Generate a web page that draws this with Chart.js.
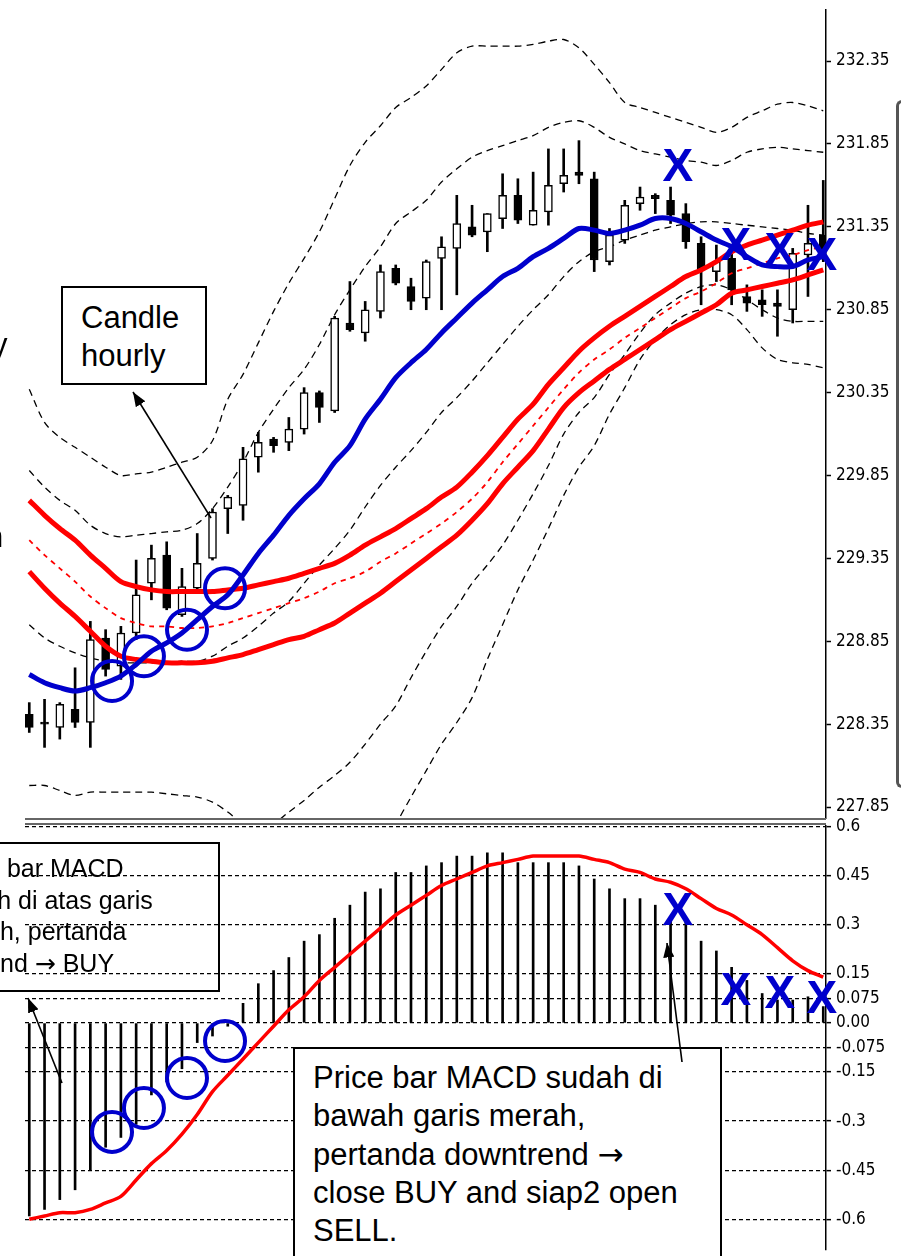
<!DOCTYPE html>
<html lang="id">
<head>
<meta charset="UTF-8">
<title>Candle hourly dan MACD</title>
<script src="https://cdn.jsdelivr.net/npm/chart.js"></script>
<style>
  html, body { margin: 0; padding: 0; background: #fff; }
  body { width: 901px; height: 1256px; position: relative; overflow: hidden;
         font-family: 'Liberation Sans', Arial, sans-serif; color: #000; }
  canvas { position: absolute; left: 0; }
  #priceChart { top: 0; z-index: 1; }
  #macdChart { top: 806px; z-index: 1; }
  .rule { position: absolute; left: 25px; width: 801px; height: 2px; background: #666; z-index: 2; }
  .note { position: absolute; box-sizing: border-box; border: 2px solid #000; white-space: nowrap; z-index: 3; }
  .big { font-size: 31px; line-height: 38px; }
  .arr { font-family: 'DejaVu Sans', sans-serif; }
  .frag { position: absolute; font-size: 31px; line-height: 38px; z-index: 3; }
  #scroll { position: absolute; left: 896px; top: 100px; width: 8px; height: 688px; box-sizing: border-box;
            border-left: 3px solid #555; border-top: 3px solid #555; border-bottom: 3px solid #555;
            border-radius: 6px 0 0 6px; z-index: 2; }
  svg { position: absolute; left: 0; top: 0; z-index: 4; }
</style>
</head>
<body>

<canvas id="priceChart" width="901" height="822"></canvas>
<canvas id="macdChart" width="901" height="450"></canvas>

<div class="rule" style="top:818px"></div>
<div class="rule" style="top:823px"></div>
<div id="scroll"></div>

<div class="frag" style="left:-8px; top:326px">y</div>
<div class="frag" style="left:-14px; top:518px">n</div>

<div class="note big" style="left:61px; top:286px; width:146px; height:99px; padding:11px 0 0 18px; background:#fff">Candle<br>hourly</div>

<div class="note" style="left:-75px; top:842px; width:295px; height:150px; padding:9px 0 0 16px; font-size:25px; line-height:31.7px">Price bar MACD<br>sudah di atas garis<br>merah, pertanda<br>uptrend <span class="arr">→</span> BUY</div>

<div class="note big" style="left:293px; top:1047px; width:429px; height:230px; padding:10px 0 0 18px; background:#fff">Price bar MACD sudah di<br>bawah garis merah,<br>pertanda downtrend <span class="arr">→</span><br>close BUY and siap2 open<br>SELL.</div>

<svg width="901" height="1256">
  <defs>
    <marker id="head" markerWidth="9" markerHeight="7" refX="9" refY="3.5" orient="auto">
      <path d="M0,0 L9,3.5 L0,7 z" fill="#000"/>
    </marker>
  </defs>
  <line x1="211" y1="518" x2="133" y2="392" stroke="#000" stroke-width="1.6" marker-end="url(#head)"/>
  <line x1="62" y1="1083" x2="28" y2="998" stroke="#000" stroke-width="1.6" marker-end="url(#head)"/>
  <line x1="682" y1="1062" x2="667" y2="943" stroke="#000" stroke-width="1.6" marker-end="url(#head)"/>
</svg>

<script>
// hourly candles (one entry per bar, left to right)
const candleOpen  = [228.41,228.36,228.33,228.44,228.36,228.87,228.70,228.90,229.20,229.37,229.01,229.17,229.35,229.65,229.67,229.96,230.07,230.05,230.13,230.35,230.24,230.77,230.71,230.84,231.10,230.99,230.92,231.16,231.22,231.35,231.32,231.40,231.54,231.36,231.44,231.61,231.68,231.64,231.14,231.27,231.49,231.54,231.51,231.43,231.25,231.08,231.16,230.93,230.91,230.89,230.85,231.18,231.30];
const candleHigh  = [228.48,228.50,228.48,228.69,228.97,228.92,228.94,229.34,229.43,229.45,229.29,229.50,229.65,229.73,230.02,230.11,230.08,230.20,230.38,230.36,230.81,231.02,230.90,231.12,231.12,231.04,231.15,231.29,231.54,231.48,231.43,231.67,231.64,231.68,231.82,231.82,231.87,231.68,231.34,231.51,231.59,231.55,231.59,231.49,231.29,231.24,231.19,231.00,230.97,230.97,231.22,231.48,231.63];
const candleLow   = [228.30,228.21,228.26,228.33,228.21,228.64,228.62,228.86,229.10,229.04,229.00,229.16,229.34,229.50,229.58,229.87,229.99,230.00,230.10,230.17,230.23,230.72,230.66,230.80,231.00,230.85,230.85,230.85,230.94,231.29,231.20,231.34,231.37,231.36,231.36,231.56,231.61,231.08,231.12,231.25,231.45,231.43,231.37,231.22,230.88,231.02,230.88,230.84,230.81,230.69,230.77,230.93,231.14];
const candleClose = [228.33,228.35,228.47,228.36,228.86,228.68,228.90,229.13,229.35,229.05,229.18,229.32,229.63,229.72,229.95,230.05,230.03,230.13,230.35,230.26,230.80,230.73,230.85,231.08,231.01,230.90,231.14,231.23,231.37,231.30,231.43,231.54,231.39,231.45,231.60,231.66,231.66,231.15,231.30,231.48,231.53,231.52,231.42,231.26,231.09,231.14,230.97,230.89,230.88,230.87,231.19,231.25,231.18];

// indicator lines on the price panel
const blueLine  = [228.65,228.60,228.57,228.55,228.57,228.60,228.64,228.71,228.79,228.84,228.90,228.98,229.06,229.13,229.25,229.38,229.49,229.61,229.71,229.80,229.93,230.03,230.19,230.31,230.44,230.53,230.61,230.71,230.80,230.89,230.97,231.05,231.10,231.17,231.22,231.28,231.34,231.33,231.31,231.33,231.36,231.40,231.40,231.37,231.32,231.27,231.23,231.17,231.12,231.11,231.11,231.15,231.17];
const redUpper  = [229.70,229.61,229.53,229.46,229.37,229.29,229.21,229.18,229.16,229.15,229.15,229.15,229.15,229.16,229.17,229.19,229.21,229.23,229.26,229.29,229.32,229.37,229.43,229.48,229.53,229.59,229.65,229.72,229.78,229.87,229.97,230.08,230.19,230.28,230.40,230.50,230.60,230.68,230.75,230.81,230.87,230.93,230.99,231.05,231.09,231.14,231.20,231.24,231.27,231.30,231.33,231.36,231.38];
const redMiddle = [229.46,229.37,229.29,229.21,229.12,229.05,228.99,228.96,228.94,228.94,228.93,228.93,228.94,228.96,228.99,229.02,229.05,229.08,229.11,229.15,229.20,229.23,229.27,229.33,229.38,229.44,229.50,229.56,229.63,229.71,229.81,229.93,230.04,230.15,230.26,230.37,230.47,230.55,230.61,230.68,230.74,230.80,230.86,230.92,230.96,231.01,231.07,231.10,231.13,231.16,231.18,231.21,231.23];
const redLower  = [229.27,229.17,229.08,229.00,228.91,228.82,228.76,228.74,228.73,228.72,228.72,228.72,228.73,228.75,228.77,228.80,228.83,228.86,228.88,228.92,228.96,229.02,229.08,229.14,229.21,229.28,229.35,229.42,229.49,229.58,229.68,229.80,229.90,230.00,230.13,230.26,230.35,230.42,230.49,230.55,230.61,230.67,230.73,230.78,230.83,230.88,230.95,230.97,230.99,231.01,231.03,231.06,231.09];

// black dashed bands
const bandOuterUpper = [230.37,230.17,230.08,230.02,229.96,229.90,229.85,229.86,229.87,229.90,229.93,229.96,230.06,230.31,230.46,230.65,230.84,231.01,231.16,231.32,231.52,231.72,231.86,231.96,232.07,232.13,232.20,232.30,232.40,232.44,232.44,232.44,232.44,232.45,232.47,232.48,232.43,232.33,232.22,232.10,232.07,232.04,232.01,231.98,231.95,231.92,231.95,232.01,232.05,232.09,232.10,232.08,232.05];
const bandInnerUpper = [229.88,229.78,229.70,229.64,229.55,229.50,229.48,229.49,229.50,229.51,229.52,229.56,229.65,229.78,229.93,230.11,230.25,230.38,230.49,230.64,230.82,230.97,231.11,231.23,231.37,231.44,231.51,231.62,231.70,231.77,231.81,231.84,231.87,231.90,231.95,231.98,231.99,231.95,231.89,231.85,231.81,231.79,231.77,231.75,231.74,231.72,231.75,231.80,231.82,231.83,231.82,231.81,231.80];
const bandMiddle     = [228.95,228.87,228.82,228.78,228.75,228.73,228.72,228.72,228.72,228.72,228.73,228.73,228.76,228.82,228.87,228.94,229.02,229.09,229.20,229.31,229.41,229.52,229.66,229.79,229.90,230.00,230.11,230.23,230.32,230.42,230.53,230.64,230.75,230.85,230.94,231.05,231.14,231.20,231.23,231.27,231.30,231.33,231.35,231.37,231.38,231.38,231.37,231.36,231.35,231.34,231.33,231.31,231.30];
const bandInnerLower = [227.98,227.98,227.95,227.92,227.94,227.94,227.94,227.94,227.94,227.93,227.92,227.91,227.88,227.82,227.75,227.72,227.75,227.82,227.89,227.97,228.04,228.12,228.23,228.35,228.46,228.63,228.79,228.94,229.06,229.20,229.31,229.43,229.58,229.74,229.91,230.10,230.23,230.32,230.46,230.58,230.71,230.82,230.89,230.95,230.99,231.00,230.97,230.91,230.85,230.80,230.78,230.78,230.78];
const bandOuterLower = [null,null,null,null,null,null,null,null,null,null,null,null,null,null,null,null,null,null,null,null,null,null,227.26,227.52,227.74,227.91,228.07,228.23,228.36,228.51,228.74,228.95,229.16,229.34,229.53,229.73,229.90,230.03,230.22,230.38,230.55,230.67,230.76,230.82,230.85,230.85,230.82,230.73,230.62,230.55,230.53,230.52,230.50];

// MACD panel
const macdHist   = [-0.59,-0.57,-0.54,-0.51,-0.45,-0.38,-0.35,-0.31,-0.22,-0.18,-0.14,-0.06,-0.04,-0.01,0.06,0.12,0.16,0.20,0.25,0.27,0.32,0.36,0.40,0.41,0.46,0.46,0.48,0.49,0.51,0.51,0.52,0.52,0.49,0.49,0.49,0.49,0.48,0.44,0.41,0.38,0.38,0.36,0.32,0.31,0.25,0.22,0.17,0.13,0.09,0.07,0.07,0.08,0.05];
const macdSignal = [-0.60,-0.59,-0.58,-0.58,-0.57,-0.55,-0.53,-0.48,-0.43,-0.39,-0.34,-0.28,-0.21,-0.16,-0.11,-0.06,-0.01,0.04,0.08,0.13,0.17,0.21,0.25,0.29,0.33,0.36,0.39,0.42,0.44,0.46,0.48,0.49,0.50,0.51,0.51,0.51,0.51,0.50,0.49,0.47,0.46,0.44,0.43,0.41,0.38,0.35,0.33,0.30,0.27,0.23,0.19,0.16,0.14];

// axis ticks
const priceTicks = [227.85,228.35,228.85,229.35,229.85,230.35,230.85,231.35,231.85,232.35];
const macdTicks = [0.6,0.45,0.3,0.15,0.075,0,-0.075,-0.15,-0.3,-0.45,-0.6];
const macdTickLabels = ['0.6','0.45','0.3','0.15','0.075','0.00','-0.075','-0.15','-0.3','-0.45','-0.6'];

// hand-drawn marks (bar position, value)
const circleBars  = [5.42,7.51,10.33,12.82];
const circlePrice = [228.61,228.76,228.92,229.17];
const circleMacd  = [-0.333,-0.260,-0.168,-0.055];
const crossBars   = [42.48,46.28,49.16,51.91];
const crossPrice  = [231.705,231.228,231.198,231.168];
const crossMacd   = [0.339,0.095,0.086,0.070];

// tiny lineHeight keeps the tick labels from pushing the plot area around
const axisFont = { family: "'DejaVu Sans Condensed', 'Liberation Sans Narrow', sans-serif", size: 17, lineHeight: 0.1 };
const xRange = { type: 'linear', min: -0.28, max: 52.18, display: false, offset: false };

const pts = arr => arr.map((v, i) => ({ x: i, y: v }));
const marks = (xs, ys) => xs.map((x, k) => ({ x: x, y: ys[k] }));

function line(data, color, width, dash, order) {
    return { type: 'line', data: pts(data), borderColor: color, borderWidth: width,
             borderDash: dash, pointRadius: 0, tension: 0.3, order: order };
}

function circles(data) {
    return { type: 'line', data: data, showLine: false, pointStyle: 'circle', pointRadius: 20,
             pointBorderWidth: 4, pointBorderColor: '#0000cc', pointBackgroundColor: 'rgba(0,0,0,0)', order: 0 };
}

// blue "X" letters drawn at value positions
const crossMarks = {
    id: 'crossMarks',
    afterDatasetsDraw(chart, args, opts) {
        const { ctx, scales } = chart;
        ctx.save();
        ctx.font = "bold 46px 'Liberation Sans', Arial, sans-serif";
        ctx.fillStyle = '#0000cc';
        ctx.textAlign = 'center';
        ctx.textBaseline = 'middle';
        opts.xs.forEach((bx, k) => {
            ctx.fillText('X', scales.x.getPixelForValue(bx), scales.y.getPixelForValue(opts.ys[k]));
        });
        ctx.restore();
    }
};

function fixAxis(scale) {
    scale.width = 75;
    scale.paddingTop = 0;
    scale.paddingBottom = 0;
}

const black = '#000';
const dash = [7, 5];

new Chart(document.getElementById('priceChart'), {
    type: 'bar',
    data: {
        datasets: [
            line(bandOuterUpper, black, 1.3, dash, 10),
            line(bandInnerUpper, black, 1.3, dash, 10),
            line(bandMiddle, black, 1.3, dash, 10),
            line(bandInnerLower, black, 1.3, dash, 10),
            line(bandOuterLower, black, 1.3, dash, 10),
            {
                type: 'bar',
                data: candleLow.map((v, i) => ({ x: i, y: [v, candleHigh[i]] })),
                backgroundColor: black, barThickness: 2, grouped: false, order: 9
            },
            {
                type: 'bar',
                data: candleOpen.map((v, i) => ({ x: i, y: [v, candleClose[i]] })),
                backgroundColor: candleOpen.map((v, i) => candleClose[i] >= v ? '#fff' : '#000'),
                borderColor: black, borderWidth: 1.5, borderSkipped: false,
                barThickness: 8, minBarLength: 2, grouped: false, order: 8
            },
            line(redMiddle, '#ff0000', 1.8, [5, 5], 5),
            line(redUpper, '#ff0000', 5, [], 4),
            line(redLower, '#ff0000', 5, [], 4),
            line(blueLine, '#0000cc', 5, [], 3),
            circles(marks(circleBars, circlePrice))
        ]
    },
    options: {
        responsive: false,
        animation: false,
        layout: { autoPadding: false, padding: { left: 25, top: 10, right: 0, bottom: 4 } },
        plugins: {
            legend: { display: false },
            tooltip: { enabled: false },
            crossMarks: { xs: crossBars, ys: crossPrice }
        },
        scales: {
            x: xRange,
            y: {
                position: 'right',
                min: 227.784,
                max: 232.658,
                afterBuildTicks: s => { s.ticks = priceTicks.map(v => ({ value: v })); },
                afterFit: fixAxis,
                ticks: { font: axisFont, color: black, padding: 5, autoSkip: false, callback: v => v.toFixed(2) },
                grid: { drawOnChartArea: false, drawTicks: true, tickLength: 5, tickColor: black, tickWidth: 1.5 },
                border: { display: true, color: black, width: 1.5 }
            }
        }
    },
    plugins: [crossMarks]
});

new Chart(document.getElementById('macdChart'), {
    type: 'bar',
    data: {
        datasets: [
            {
                type: 'bar',
                data: pts(macdHist),
                backgroundColor: black, barThickness: 2, grouped: false, order: 3
            },
            line(macdSignal, '#ff0000', 3.5, [], 2),
            circles(marks(circleBars, circleMacd))
        ]
    },
    options: {
        responsive: false,
        animation: false,
        layout: { autoPadding: false, padding: { left: 25, top: 20, right: 0, bottom: 6 } },
        plugins: {
            legend: { display: false },
            tooltip: { enabled: false },
            crossMarks: { xs: crossBars, ys: crossMacd }
        },
        scales: {
            x: xRange,
            y: {
                position: 'right',
                min: -0.694,
                max: 0.602,
                afterBuildTicks: s => { s.ticks = macdTicks.map(v => ({ value: v })); },
                afterFit: fixAxis,
                ticks: { font: axisFont, color: black, padding: 5, autoSkip: false,
                         callback: v => macdTickLabels[macdTicks.indexOf(v)] },
                grid: { drawOnChartArea: true, color: black, lineWidth: 1.3, drawTicks: true,
                        tickLength: 5, tickColor: black, tickWidth: 1.5 },
                border: { display: true, color: black, width: 1.5, dash: [4, 3] }
            }
        }
    },
    plugins: [crossMarks]
});
</script>

</body>
</html>
